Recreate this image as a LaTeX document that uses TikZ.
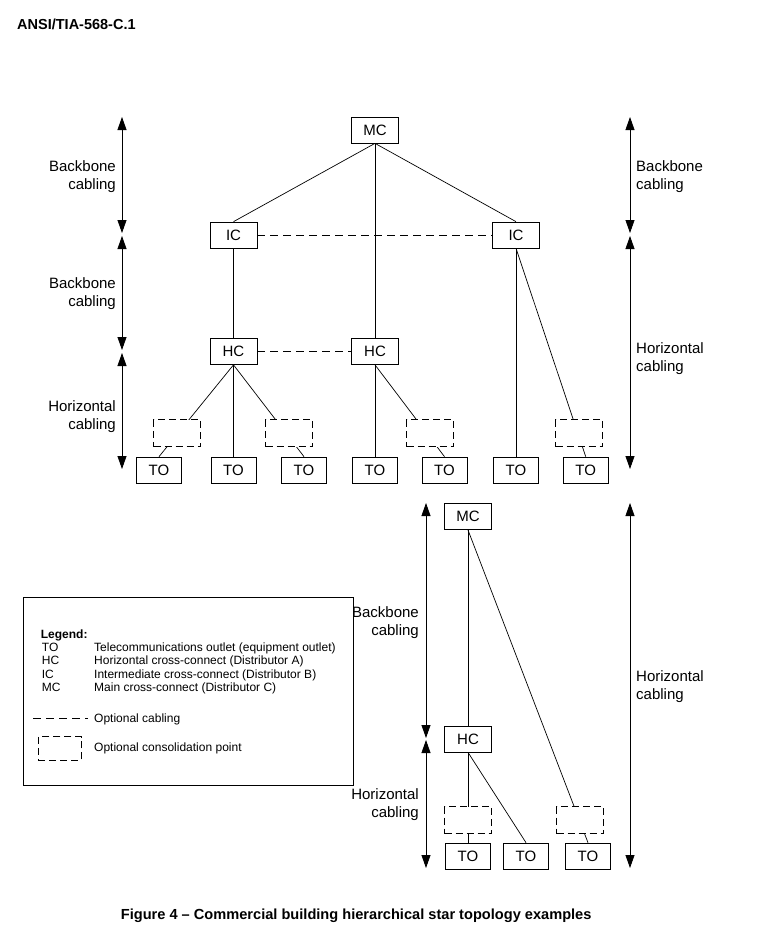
\documentclass[tikz,border=0pt]{standalone}
\usepackage{fontspec}
\setmainfont{Liberation Sans}
\usetikzlibrary{arrows.meta}

\begin{document}
\begin{tikzpicture}[x=1pt, y=-1pt,
  box/.style={draw, line width=0.7pt, minimum width=47pt, minimum height=26pt, inner sep=0pt, font=\fontsize{15}{18}\selectfont},
  cpbox/.style={draw, line width=0.7pt, dash pattern=on 7pt off 4pt, fill=white, minimum width=47pt, minimum height=27pt, inner sep=0pt},
  wire/.style={line width=0.7pt},
  optwire/.style={line width=0.7pt, dash pattern=on 8pt off 5pt},
  dim/.style={line width=0.8pt, {Triangle[length=13pt,width=9pt]}-{Triangle[length=13pt,width=9pt]}},
  lbl/.style={font=\fontsize{15}{18}\selectfont, inner sep=0pt},
  leg/.style={font=\fontsize{12}{13.5}\selectfont, inner sep=0pt, anchor=base west}]

\useasboundingbox (0,0) rectangle (758,935);

\node[anchor=base west, inner sep=0pt, font=\bfseries\fontsize{14.5}{17}\selectfont] (title) at (17,29.3) {ANSI/TIA-568-C.1};

% upper tree
\node[box] (mc) at (375,130) {MC};
\node[box] (icl) at (233.5,235) {IC};
\node[box] (icr) at (516,235) {IC};
\node[box] (hcl) at (233.5,351.5) {HC};
\node[box] (hcm) at (375,351.5) {HC};
\foreach \x [count=\i] in {159,233.5,304,375,444.5,516,585.7}
  \node[box, minimum width=45pt] (to\i) at (\x,470) {TO};

\draw[wire] (mc.south) -- (icl.north);
\draw[wire] (mc.south) -- (icr.north);
\draw[wire] (mc.south) -- (hcm.north);
\draw[wire] (icl.south) -- (hcl.north);
\draw[wire] (icr.south) -- (to6.north);
\draw[wire] (icr.south) -- (to7.north);
\foreach \i in {1,2,3} {\draw[wire] (hcl.south) -- (to\i.north);}
\foreach \i in {4,5} {\draw[wire] (hcm.south) -- (to\i.north);}
\draw[optwire] (icl.east) -- (icr.west);
\draw[optwire] (hcl.east) -- (hcm.west);

\node[cpbox] (cp1) at (177,433.3) {};
\node[cpbox] (cp2) at (289,433.3) {};
\node[cpbox] (cp3) at (430,433.3) {};
\node[cpbox] (cp4) at (579,433.3) {};

% lower tree
\node[box] (mcb) at (468,516.7) {MC};
\node[box] (hcb) at (468,739) {HC};
\foreach \x [count=\i] in {468,526,588}
  \node[box, minimum width=45pt] (tob\i) at (\x,856) {TO};

\draw[wire] (mcb.south) -- (hcb.north);
\draw[wire] (mcb.south) -- (tob3.north);
\draw[wire] (hcb.south) -- (tob1.north);
\draw[wire] (hcb.south) -- (tob2.north);

\node[cpbox] (cp5) at (468,820) {};
\node[cpbox] (cp6) at (580,820) {};

% extent arrows
\coordinate (l0) at (122,117);
\coordinate (l1) at (122,233);
\coordinate (l2) at (122,236);
\coordinate (l3) at (122,350);
\coordinate (l4) at (122,353);
\coordinate (l5) at (122,469);
\coordinate (r0) at (630,117);
\coordinate (r1) at (630,233);
\coordinate (r2) at (630,236);
\coordinate (r3) at (630,469);
\coordinate (b0) at (426,503);
\coordinate (b1) at (426,738);
\coordinate (b2) at (426,740);
\coordinate (b3) at (426,868);
\coordinate (s0) at (630,503);
\coordinate (s1) at (630,868);
\draw[dim] (l0) -- (l1);
\draw[dim] (l2) -- (l3);
\draw[dim] (l4) -- (l5);
\draw[dim] (r0) -- (r1);
\draw[dim] (r2) -- (r3);
\draw[dim] (b0) -- (b1);
\draw[dim] (b2) -- (b3);
\draw[dim] (s0) -- (s1);

\node[lbl, anchor=east, align=right] (lab1) at (116,177) {Backbone\\cabling};
\node[lbl, anchor=east, align=right] (lab2) at (116,294) {Backbone\\cabling};
\node[lbl, anchor=east, align=right] (lab3) at (116,417) {Horizontal\\cabling};
\node[lbl, anchor=west, align=left] (lab4) at (636,177) {Backbone\\cabling};
\node[lbl, anchor=west, align=left] (lab5) at (636,359) {Horizontal\\cabling};
\node[lbl, anchor=east, align=right] (lab6) at (419,622.5) {Backbone\\cabling};
\node[lbl, anchor=east, align=right] (lab7) at (419,805) {Horizontal\\cabling};
\node[lbl, anchor=west, align=left] (lab8) at (636,687) {Horizontal\\cabling};

% legend
\node[draw, line width=0.7pt, anchor=north west, minimum width=330pt, minimum height=188pt, inner sep=0pt] (legend) at (23.3,596.7) {};
\node[leg, font=\bfseries\fontsize{12}{13.5}\selectfont] (legtitle) at (40.7,638) {Legend:};
\foreach \y/\ab/\txt [count=\i] in {651.4/TO/Telecommunications outlet (equipment outlet),
    664.8/HC/Horizontal cross-connect (Distributor A),
    678.2/IC/Intermediate cross-connect (Distributor B),
    691.6/MC/Main cross-connect (Distributor C)} {
  \node[leg] (ab\i) at (41.7,\y) {\ab};
  \node[leg] (txt\i) at (94,\y) {\txt};
}
\coordinate (opt0) at (33,718.3);
\coordinate (opt1) at (88,718.3);
\draw[optwire] (opt0) -- (opt1);
\node[leg] (opttxt) at (94,722) {Optional cabling};
\node[cpbox, minimum width=43.3pt, minimum height=23.3pt] (cpleg) at (60,748.3) {};
\node[leg] (cptxt) at (94,751) {Optional consolidation point};

\node[anchor=base west, inner sep=0pt, font=\bfseries\fontsize{14.6}{17}\selectfont] (caption) at (120.7,919) {Figure 4 – Commercial building hierarchical star topology examples};

\end{tikzpicture}
\end{document}
